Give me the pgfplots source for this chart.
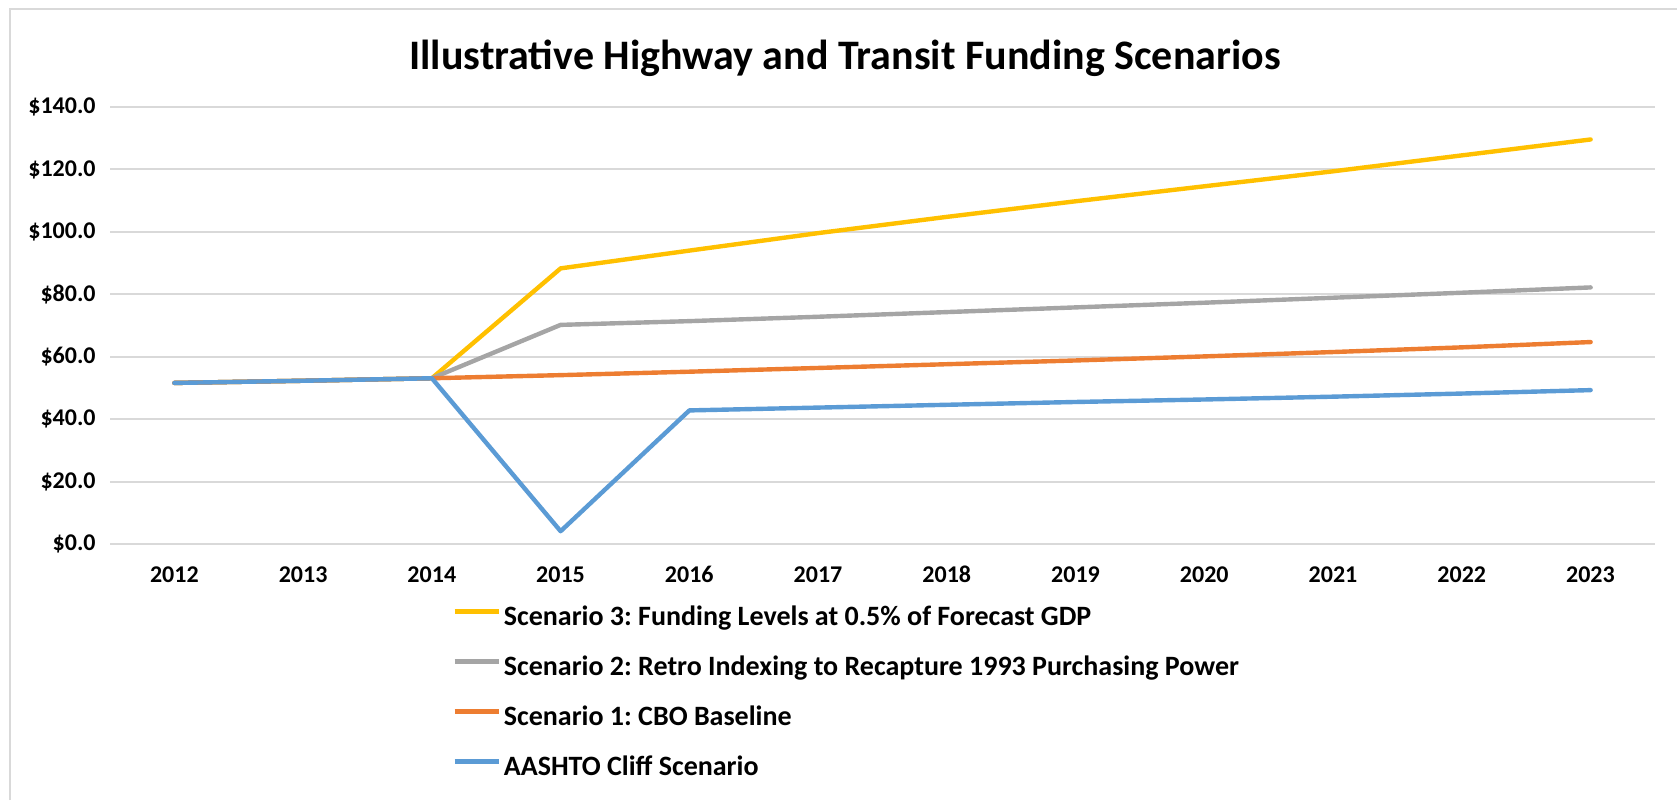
\documentclass[border=0pt]{standalone}
\usepackage{fontspec}
\setmainfont{Carlito}
\usepackage{pgfplots}
\usepackage{pgfplotstable}
\pgfplotsset{compat=1.18}
\definecolor{cYellow}{HTML}{FFC000}
\definecolor{cGray}{HTML}{A5A5A5}
\definecolor{cOrange}{HTML}{ED7D31}
\definecolor{cBlue}{HTML}{5B9BD5}
\definecolor{cGrid}{HTML}{D9D9D9}

% funding in billions of dollars
\pgfplotstableread{
year  sthree stwo  sone  cliff
2012  51.6   51.6  51.6  51.6
2013  52.3   52.3  52.3  52.3
2014  53.1   53.1  53.1  53.1
2015  88.3   70.2  54.1  4.1
2016  94.0   71.4  55.2  42.8
2017  99.6   72.8  56.4  43.7
2018  104.8  74.3  57.6  44.6
2019  109.8  75.8  58.8  45.5
2020  114.6  77.3  60.1  46.3
2021  119.4  78.9  61.5  47.2
2022  124.5  80.5  63.0  48.2
2023  129.6  82.2  64.7  49.3
}\funding

\begin{document}
\frenchspacing
\begin{tikzpicture}
  \path[use as bounding box] (0pt,0pt) rectangle (838.5pt,400pt);
  \draw[cGrid,line width=1pt] (5pt,0pt) -- (5pt,395.5pt) -- (838.5pt,395.5pt);
  \node[anchor=base,inner sep=0pt,font=\fontsize{21}{24}\selectfont\bfseries]
    at (422.5pt,365pt) {Illustrative Highway and Transit Funding Scenarios};
  \begin{axis}[
      at={(55pt,128pt)},anchor=south west,
      scale only axis,
      width=772.5pt,height=218.5pt,
      xmin=2011.5,xmax=2023.5,
      ymin=0,ymax=140,
      xtick={2012,...,2023},
      ytick={0,20,...,140},
      axis line style={draw=none},
      tick style={draw=none},
      ymajorgrids,grid style={cGrid,line width=1pt},
      major tick length=0pt,
      tick label style={font=\fontsize{12}{14}\selectfont\bfseries},
      /pgf/number format/assume math mode=true,
      xticklabel={\pgfmathprintnumber[1000 sep={}]{\tick}},
      yticklabel={\$\pgfmathprintnumber[fixed,fixed zerofill,precision=1]{\tick}},
      xticklabel style={anchor=north,inner sep=0pt,yshift=-11pt},
      yticklabel style={anchor=east,inner sep=0pt,xshift=-7pt},
      clip=false,
      legend cell align=left,
      legend style={at={(0.2214,-0.1400)},anchor=north west,draw=none,fill=none,
        inner sep=0pt,row sep=12pt,column sep=1.5pt,
        nodes={inner sep=0pt,text height=10pt,text depth=3pt,
          font=\fontsize{14}{16}\selectfont\bfseries}},
      legend image code/.code={\draw[#1,line cap=butt] (0pt,3.5pt) -- (22pt,3.5pt);},
      every axis plot/.append style={line width=2.2pt,line join=round,line cap=round,mark=none},
    ]
    \addplot[cYellow] table[x=year,y=sthree] {\funding};
    \addplot[cGray]   table[x=year,y=stwo]   {\funding};
    \addplot[cOrange] table[x=year,y=sone]   {\funding};
    \addplot[cBlue]   table[x=year,y=cliff]  {\funding};
    \legend{Scenario 3: Funding Levels at 0.5\% of Forecast GDP,
      Scenario 2: Retro Indexing to Recapture 1993 Purchasing Power,
      Scenario 1: CBO Baseline,
      AASHTO Cliff Scenario}
  \end{axis}
\end{tikzpicture}
\end{document}
